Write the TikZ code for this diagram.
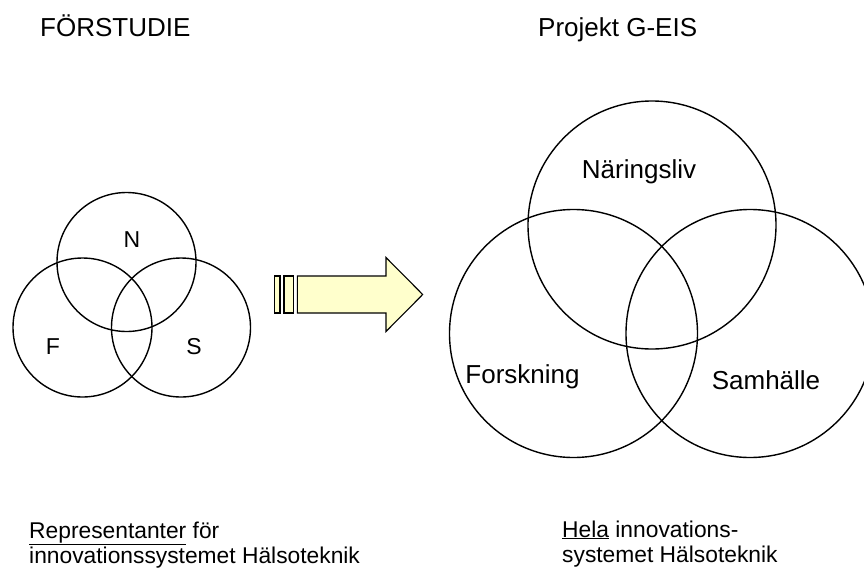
\documentclass[tikz,border=0pt]{standalone}
\usepackage{fontspec}
\setmainfont{Liberation Sans}
\begin{document}
\begin{tikzpicture}[x=1pt,y=-1pt,
  venn/.style={circle,draw=black,line width=1.4pt,inner sep=0pt},
  lbl/.style={inner sep=0pt,font=\fontsize{23}{27}\selectfont},
  biglbl/.style={inner sep=0pt,font=\fontsize{26}{30}\selectfont},
  ttl/.style={inner sep=0pt,anchor=base west,font=\fontsize{26}{30}\selectfont},
  note/.style={inner sep=0pt,anchor=base west,font=\fontsize{22.8}{26}\selectfont},
  arrowpart/.style={draw=black,line width=1.1pt,fill=arrowfill,line join=miter}
]
\definecolor{arrowfill}{HTML}{FFFFCC}
\clip (0,0) rectangle (864,568);
\fill[white] (0,0) rectangle (864,568);
% titles
\node[ttl] (t1) at (40,36) {FÖRSTUDIE};
\node[ttl] (t2) at (538,36) {Projekt G-EIS};
% small venn
\node[venn,minimum size=139pt] (cN) at (126.5,262) {};
\node[venn,minimum size=139pt] (cF) at (82.5,327.5) {};
\node[venn,minimum size=139pt] (cS) at (181,327.5) {};
\node[lbl] (lN) at (132,240) {N};
\node[lbl] (lF) at (53,347) {F};
\node[lbl] (lS) at (194,347) {S};
% arrow
\draw[arrowpart] (274.7,276) rectangle (280,313);
\draw[arrowpart] (284,276) rectangle (293.3,313);
\draw[arrowpart] (297.3,276) -- (386,276) -- (386,257.5) -- (422.7,294.5)
   -- (386,331.5) -- (386,313) -- (297.3,313) -- cycle;
% big venn
\node[venn,minimum size=248pt] (bN) at (652,225) {};
\node[venn,minimum size=248pt] (bF) at (573.5,333.5) {};
\node[venn,minimum size=248pt] (bS) at (750,333.5) {};
\node[biglbl] (lNar) at (639,172) {Näringsliv};
\node[biglbl] (lFor) at (522.5,377) {Forskning};
\node[biglbl] (lSam) at (766,380) {Samhälle};
% bottom notes
\node[note] (n1) at (29,538) {\underline{Representanter} för};
\node[note] (n2) at (29,563) {innovationssystemet Hälsoteknik};
\node[note] (n3) at (562,537) {\underline{Hela} innovations-};
\node[note] (n4) at (562,562) {systemet Hälsoteknik};
\end{tikzpicture}
\end{document}
